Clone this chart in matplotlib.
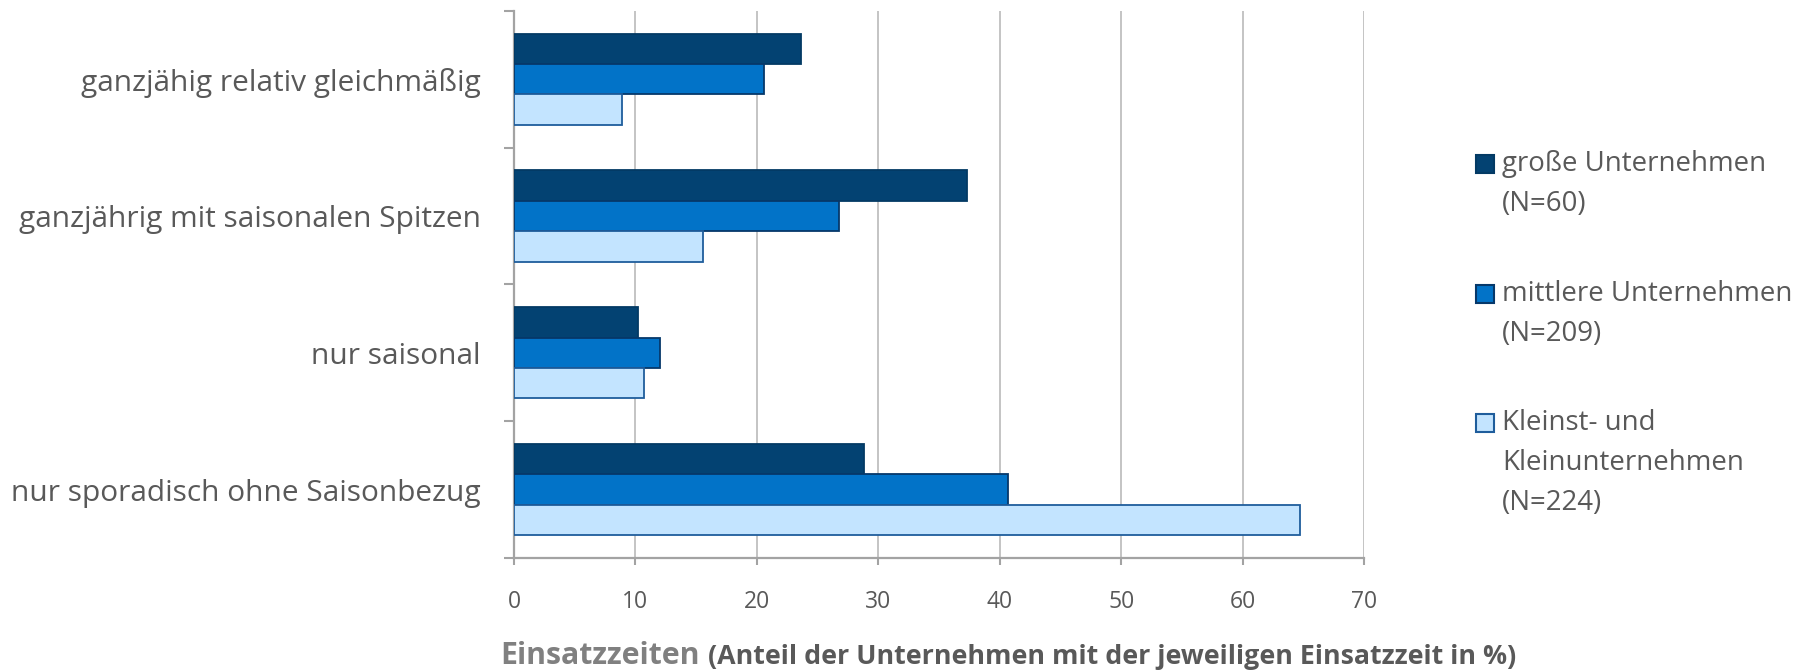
import matplotlib
matplotlib.use("Agg")
import matplotlib.pyplot as plt
from matplotlib import font_manager
from matplotlib.patches import Rectangle
import numpy as np

# ---------------- data ----------------
categories = [
    "ganzjähig relativ gleichmäßig",
    "ganzjährig mit saisonalen Spitzen",
    "nur saisonal",
    "nur sporadisch ohne Saisonbezug",
]
series_labels = [
    "große Unternehmen\n(N=60)",
    "mittlere Unternehmen\n(N=209)",
    "Kleinst- und\nKleinunternehmen\n(N=224)",
]
grosse = [23.6, 37.3, 10.2, 28.8]
mittlere = [20.6, 26.8, 12.0, 40.7]
klein = [8.9, 15.6, 10.7, 64.7]
x_ticks = [0, 10, 20, 30, 40, 50, 60, 70]
xlabel_main = "Einsatzzeiten"
xlabel_sub = "(Anteil der Unternehmen mit der jeweiligen Einsatzzeit in %)"

# ---------------- style ----------------
fills = ["#034272", "#0273C8", "#C3E4FF"]
edges = ["#033A64", "#06386A", "#1F5D9C"]
text_col = "#595959"
grid_col = "#C4C4C4"
axis_col = "#A3A3A3"

available = {f.name for f in font_manager.fontManager.ttflist}
main_font = "Open Sans" if "Open Sans" in available else "DejaVu Sans"
narrow_font = "Liberation Sans Narrow" if "Liberation Sans Narrow" in available else main_font

W, H = 1800, 670
fig = plt.figure(figsize=(W / 100, H / 100), dpi=100)
ax = fig.add_axes([514 / W, 1 - 558 / H, 850 / W, (558 - 10.7) / H])

y = np.arange(len(categories))
h = 0.222
series = [grosse, mittlere, klein]
offsets = [-h, 0, h]
for vals, off, fc, ec in zip(series, offsets, fills, edges):
    ax.barh(y + off, vals, height=h, color=fc, edgecolor=ec, linewidth=1.3, zorder=3)

ax.set_xlim(0, 70)
ax.set_ylim(len(categories) - 0.5, -0.5)
ax.set_xticks(x_ticks)
ax.set_xticklabels([str(t) for t in x_ticks], fontsize=16.5, color=text_col, family=main_font)
ax.set_yticks(y)
ax.set_yticklabels(categories, fontsize=21.5, color=text_col, family=main_font)
ax.set_yticks(np.arange(-0.5, len(categories), 1.0), minor=True)

ax.tick_params(axis="y", which="major", length=0, pad=24)
ax.tick_params(axis="y", which="minor", length=7, width=1.5, color=axis_col, direction="out")
ax.tick_params(axis="x", which="major", length=5, width=1.5, color=axis_col, direction="out", pad=18)

ax.xaxis.grid(True, color=grid_col, linewidth=1.4, zorder=0)
ax.set_axisbelow(True)
for s in ["top", "right"]:
    ax.spines[s].set_visible(False)
for s in ["left", "bottom"]:
    ax.spines[s].set_color(axis_col)
    ax.spines[s].set_linewidth(1.6)

# ---------------- legend (manual, Excel-like) ----------------
leg_first_line = [164, 294, 423]
line_step = 40
for lab, fc, ec, y0 in zip(series_labels, fills, edges, leg_first_line):
    fig.add_artist(Rectangle((1476 / W, 1 - (y0 + 9) / H), 18 / W, 18 / H,
                             transform=fig.transFigure, facecolor=fc,
                             edgecolor=ec, linewidth=1.5))
    for k, line in enumerate(lab.split("\n")):
        fig.text(1502 / W, 1 - (y0 + k * line_step) / H, line, fontsize=19.9,
                 color=text_col, family=main_font, va="center", ha="left")

# ---------------- x label (two styles) ----------------
fig.canvas.draw()
r = fig.canvas.get_renderer()
ybase = 1 - 664 / H
t1 = fig.text(500 / W, ybase, xlabel_main, fontsize=21.8, fontweight="bold",
              color="#808080", family=narrow_font, va="baseline", ha="left")
bb = t1.get_window_extent(r)
fig.text((bb.x1 + 8) / W, ybase, xlabel_sub, fontsize=19.3, fontweight="bold",
         color=text_col, family=narrow_font, va="baseline", ha="left")

fig.savefig("out.png", dpi=100)
